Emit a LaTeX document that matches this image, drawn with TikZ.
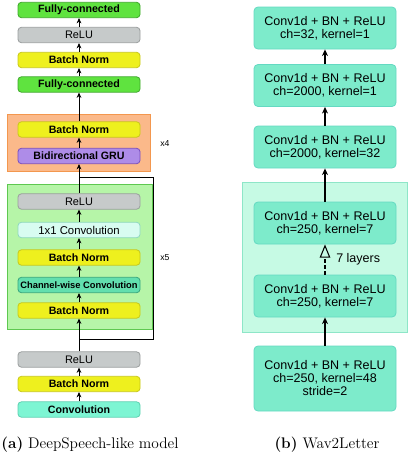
\documentclass[tikz,border=0pt]{standalone}
\usepackage{fontspec}
\newfontfamily\bfont{Liberation Sans}
\usetikzlibrary{arrows.meta}
\definecolor{fcF}{HTML}{5FE33F}\definecolor{fcD}{HTML}{3EA82A}
\definecolor{reluF}{HTML}{C6CACA}\definecolor{reluD}{HTML}{9A9E9E}
\definecolor{bnF}{HTML}{EEF01E}\definecolor{bnD}{HTML}{C8C81A}
\definecolor{gruF}{HTML}{AE8CE8}\definecolor{gruD}{HTML}{7A4FC0}
\definecolor{oneF}{HTML}{D8FCF1}\definecolor{oneD}{HTML}{8FD8C0}
\definecolor{chwF}{HTML}{62DFAE}\definecolor{chwD}{HTML}{38A67E}
\definecolor{convF}{HTML}{7DF5D3}\definecolor{convD}{HTML}{5CD0B0}
\definecolor{orF}{HTML}{FBB98A}\definecolor{orD}{HTML}{F3974E}
\definecolor{grF}{HTML}{B6F5A8}\definecolor{grD}{HTML}{5EC850}
\definecolor{rF}{HTML}{7DEBCB}\definecolor{rD}{HTML}{64D9C2}
\definecolor{bigF}{HTML}{C6FAE4}\definecolor{bigD}{HTML}{8EE6C8}
\begin{document}
\begin{tikzpicture}[x=0.75pt,y=-0.75pt,
 lbox/.style={draw, rounded corners=2.5pt, minimum width=91.5pt, minimum height=11.5pt, inner sep=0pt, line width=0.6pt, font=\bfont\bfseries\fontsize{8}{9}\selectfont},
 fc/.style={lbox, fill=fcF, draw=fcD},
 relu/.style={lbox, fill=reluF, draw=reluD, font=\bfont\fontsize{8.2}{9}\selectfont},
 bn/.style={lbox, fill=bnF, draw=bnD},
 gru/.style={lbox, fill=gruF, draw=gruD},
 one/.style={lbox, fill=oneF, draw=oneD, font=\bfont\fontsize{8.5}{9}\selectfont},
 chw/.style={lbox, fill=chwF, draw=chwD, font=\bfont\bfseries\fontsize{7}{8}\selectfont},
 conv/.style={lbox, fill=convF, draw=convD},
 rbox/.style={draw=rD, fill=rF, rounded corners=3pt, minimum width=106.5pt, minimum height=31.5pt, inner sep=0pt, line width=0.6pt, align=center, font=\bfont\fontsize{9.4}{9.75}\selectfont},
 grp/.style={line width=0.7pt},
 larr/.style={-{Stealth[length=4pt,width=3.6pt]}, line width=0.7pt},
 rarr/.style={-{Stealth[length=5pt,width=4.5pt]}, line width=0.8pt},
 lbl/.style={font=\bfont\fontsize{6.5}{7}\selectfont, inner sep=0pt},
 captxt/.style={font=\fontsize{11.5}{13}\selectfont, inner sep=0pt}
]
\useasboundingbox (0,0) rectangle (410,454);
% group boxes
\draw[grp, fill=orF, draw=orD] (7,114) rectangle (150,171);
\draw[grp, fill=grF, draw=grD] (7,184) rectangle (152,329);
\draw[grp, fill=bigF, draw=bigD] (242,182) rectangle (407,332);
% left column
\node[fc]   (fc2)   at (79,10)    {Fully-connected};
\node[relu] (relu3) at (79,35)    {ReLU};
\node[bn]   (bn4)   at (79,60)    {Batch Norm};
\node[fc]   (fc1)   at (79,84.5)  {Fully-connected};
\node[bn]   (bn3)   at (79,129.5) {Batch Norm};
\node[gru]  (gru)   at (79,156)   {Bidirectional GRU};
\node[relu] (relu2) at (79,201.5) {ReLU};
\node[one]  (one)   at (79,230)   {1x1 Convolution};
\node[bn]   (bn2)   at (79,257.5) {Batch Norm};
\node[chw]  (chw)   at (79,285)   {Channel-wise Convolution};
\node[bn]   (bn1)   at (79,310.5) {Batch Norm};
\node[relu] (relu1) at (79,359.5) {ReLU};
\node[bn]   (bn0)   at (79,384)   {Batch Norm};
\node[conv] (conv)  at (79,409.5) {Convolution};
\node[lbl, anchor=west] (x4) at (160,144) {x4};
\node[lbl, anchor=west] (x5) at (160,258) {x5};
\foreach \a/\b in {conv/bn0, bn0/relu1, relu1/bn1, bn1/chw, chw/bn2, bn2/one, one/relu2, relu2/gru, gru/bn3, bn3/fc1, fc1/bn4, bn4/relu3, relu3/fc2}
  \draw[larr] (\a) -- (\b);
% skip connection
\coordinate (sa) at (79,339);
\coordinate (sc) at (153,339);
\coordinate (sd) at (153,177);
\coordinate (sb) at (79,177);
\draw[line width=0.7pt] (sa) -- (sc) -- (sd) -- (sb);
% right column
\node[rbox] (r1) at (325,28)    {Conv1d + BN + ReLU\\ch=32, kernel=1};
\node[rbox] (r2) at (325,85.5)  {Conv1d + BN + ReLU\\ch=2000, kernel=1};
\node[rbox] (r3) at (325,147)   {Conv1d + BN + ReLU\\ch=2000, kernel=32};
\node[rbox] (r4) at (325,223)   {Conv1d + BN + ReLU\\ch=250, kernel=7};
\node[rbox] (r5) at (325,296)   {Conv1d + BN + ReLU\\ch=250, kernel=7};
\node[rbox, minimum height=48.75pt] (r6) at (325,378.5) {Conv1d + BN + ReLU\\ch=250, kernel=48\\stride=2};
\draw[rarr] (r6) -- (r5);
\draw[line width=0.8pt, dash pattern=on 2.5pt off 2pt, -{Triangle[open, length=10pt, width=8pt]}] (r5) -- (r4);
\draw[rarr] (r4) -- (r3);
\draw[rarr] (r3) -- (r2);
\draw[rarr] (r2) -- (r1);
\node[anchor=west, inner sep=0pt, font=\bfont\fontsize{9.4}{10}\selectfont] (lay) at (336,259) {7 layers};
% captions
\node[captxt] (capa) at (90,445) {\textbf{(a)} DeepSpeech-like model};
\node[captxt] (capb) at (327,445) {\textbf{(b)} Wav2Letter};
\end{tikzpicture}
\end{document}
